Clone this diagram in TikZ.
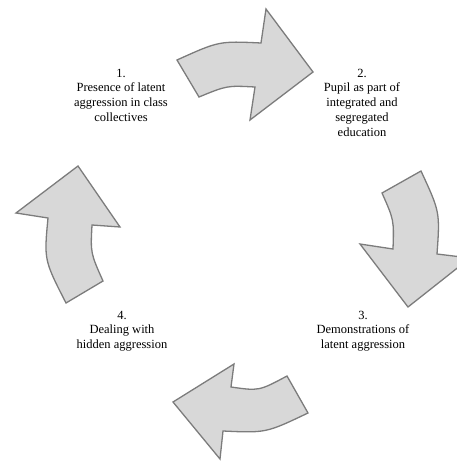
\documentclass[tikz,border=0pt]{standalone}
\usepackage{fontspec}
\setmainfont{Liberation Serif}
\begin{document}
\begin{tikzpicture}[x=1pt,y=-1pt,
  cyclearrow/.style={fill={rgb,255:red,216;green,216;blue,216},draw={rgb,255:red,124;green,124;blue,124},line width=1.3pt,line join=miter},
  steplabel/.style={anchor=north,inner sep=0pt,align=center,font=\fontsize{12.5}{14.8}\selectfont}]
\useasboundingbox (0,0) rectangle (457,461);
\clip (0,0) rectangle (457,461);
% arrow 1 (top)
\draw[cyclearrow] (177,60) .. controls (219,41) .. (261,43) -- (266,9) -- (313,72) -- (250,120) -- (255,87) .. controls (227,85.5) .. (199,97) -- cycle;
% arrow 2 (right)
\draw[cyclearrow] (421,171) .. controls (440,212) .. (437,254) -- (470,258) -- (408,307) -- (360,244) -- (393,249) .. controls (394,220) .. (382,193) -- cycle;
% arrow 3 (bottom)
\draw[cyclearrow] (308,413) .. controls (266,433) .. (223,431) -- (220,459) -- (173,402) -- (234,364) -- (231,387) .. controls (259,391) .. (287,376) -- cycle;
% arrow 4 (left)
\draw[cyclearrow] (120,227) -- (78,166) -- (16,213) -- (48,218) .. controls (44,260) .. (66,303) -- (103,281) .. controls (90.5,253) .. (92,225) -- cycle;
% labels
\node[steplabel] (s1) at (121,68.6) {1.\\Presence of latent\\aggression in class\\collectives};
\node[steplabel] (s2) at (362,68.6) {2.\\Pupil as part of\\integrated and\\segregated\\education};
\node[steplabel] (s3) at (363,310.6) {3.\\Demonstrations of\\latent aggression};
\node[steplabel] (s4) at (122,310.6) {4.\\Dealing with\\hidden aggression};
\end{tikzpicture}
\end{document}
